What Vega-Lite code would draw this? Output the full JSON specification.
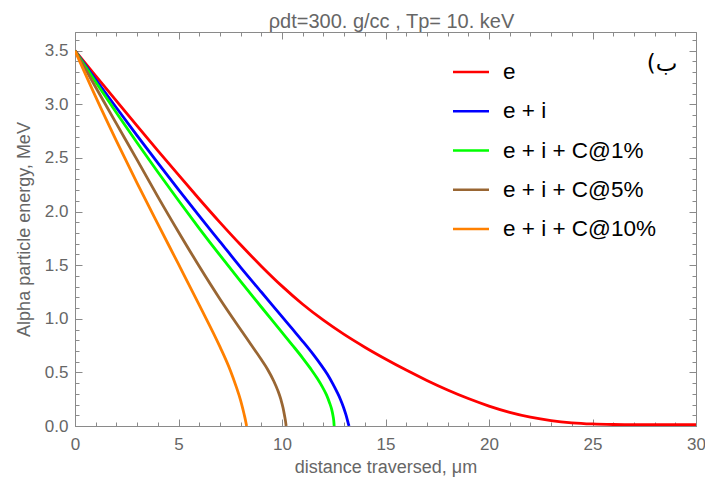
{
  "$schema": "https://vega.github.io/schema/vega-lite/v6.json",
  "width": 621,
  "height": 394,
  "autosize": {"type": "none"},
  "padding": {"left": 75, "top": 32, "right": 9, "bottom": 59},
  "background": "white",
  "title": {"text": "ρdt=300. g/cc , Tp= 10. keV", "fontSize": 20, "font": "Liberation Sans", "fontWeight": "normal", "color": "#666666", "anchor": "middle", "baseline": "alphabetic", "offset": -16, "dx": 6},
  "config": {
    "view": {"stroke": "#8a8a8a", "strokeWidth": 1},
    "axis": {"grid": false, "domain": false, "tickColor": "#8a8a8a", "tickWidth": 1, "labelFont": "Liberation Sans", "titleFont": "Liberation Sans", "labelColor": "#666666", "titleColor": "#666666", "titleFontWeight": "normal", "labelFlush": false, "labelOverlap": false}
  },
  "data": {"values": [
    {"s": "e", "d": 0, "E": 3.5}, {"s": "e", "d": 1, "E": 3.2655}, {"s": "e", "d": 2, "E": 3.032}, {"s": "e", "d": 3, "E": 2.7995}, {"s": "e", "d": 4, "E": 2.569}, {"s": "e", "d": 5, "E": 2.3415}, {"s": "e", "d": 6, "E": 2.1175}, {"s": "e", "d": 7, "E": 1.8995}, {"s": "e", "d": 8, "E": 1.69}, {"s": "e", "d": 9, "E": 1.491}, {"s": "e", "d": 10, "E": 1.3045}, {"s": "e", "d": 11, "E": 1.1355}, {"s": "e", "d": 12, "E": 0.9865}, {"s": "e", "d": 13, "E": 0.854}, {"s": "e", "d": 14, "E": 0.735}, {"s": "e", "d": 15, "E": 0.625}, {"s": "e", "d": 16, "E": 0.5215}, {"s": "e", "d": 17, "E": 0.425}, {"s": "e", "d": 18, "E": 0.336}, {"s": "e", "d": 19, "E": 0.256}, {"s": "e", "d": 20, "E": 0.186}, {"s": "e", "d": 21, "E": 0.1275}, {"s": "e", "d": 22, "E": 0.0825}, {"s": "e", "d": 23, "E": 0.0505}, {"s": "e", "d": 24, "E": 0.03}, {"s": "e", "d": 25, "E": 0.019}, {"s": "e", "d": 26, "E": 0.014}, {"s": "e", "d": 27, "E": 0.012}, {"s": "e", "d": 28, "E": 0.012}, {"s": "e", "d": 29, "E": 0.012}, {"s": "e", "d": 30, "E": 0.012},
    {"s": "e + i", "d": 0, "E": 3.5}, {"s": "e + i", "d": 1, "E": 3.232}, {"s": "e + i", "d": 2, "E": 2.968}, {"s": "e + i", "d": 3, "E": 2.7085}, {"s": "e + i", "d": 4, "E": 2.454}, {"s": "e + i", "d": 5, "E": 2.205}, {"s": "e + i", "d": 6, "E": 1.96}, {"s": "e + i", "d": 7, "E": 1.72}, {"s": "e + i", "d": 8, "E": 1.48}, {"s": "e + i", "d": 9, "E": 1.25}, {"s": "e + i", "d": 10, "E": 1.02}, {"s": "e + i", "d": 10.5, "E": 0.905}, {"s": "e + i", "d": 11, "E": 0.79}, {"s": "e + i", "d": 11.5, "E": 0.67}, {"s": "e + i", "d": 11.9, "E": 0.565}, {"s": "e + i", "d": 12.2, "E": 0.48}, {"s": "e + i", "d": 12.45, "E": 0.395}, {"s": "e + i", "d": 12.65, "E": 0.32}, {"s": "e + i", "d": 12.82, "E": 0.25}, {"s": "e + i", "d": 12.97, "E": 0.175}, {"s": "e + i", "d": 13.08, "E": 0.11}, {"s": "e + i", "d": 13.16, "E": 0.055}, {"s": "e + i", "d": 13.21, "E": 0.018}, {"s": "e + i", "d": 13.24, "E": 0},
    {"s": "e + i + C@1%", "d": 0, "E": 3.5}, {"s": "e + i + C@1%", "d": 1, "E": 3.208}, {"s": "e + i + C@1%", "d": 2, "E": 2.922}, {"s": "e + i + C@1%", "d": 3, "E": 2.642}, {"s": "e + i + C@1%", "d": 4, "E": 2.369}, {"s": "e + i + C@1%", "d": 5, "E": 2.103}, {"s": "e + i + C@1%", "d": 6, "E": 1.844}, {"s": "e + i + C@1%", "d": 7, "E": 1.593}, {"s": "e + i + C@1%", "d": 8, "E": 1.349}, {"s": "e + i + C@1%", "d": 9, "E": 1.11}, {"s": "e + i + C@1%", "d": 10, "E": 0.874}, {"s": "e + i + C@1%", "d": 10.5, "E": 0.755}, {"s": "e + i + C@1%", "d": 11, "E": 0.634}, {"s": "e + i + C@1%", "d": 11.4, "E": 0.53}, {"s": "e + i + C@1%", "d": 11.7, "E": 0.445}, {"s": "e + i + C@1%", "d": 11.95, "E": 0.365}, {"s": "e + i + C@1%", "d": 12.15, "E": 0.29}, {"s": "e + i + C@1%", "d": 12.3, "E": 0.215}, {"s": "e + i + C@1%", "d": 12.4, "E": 0.155}, {"s": "e + i + C@1%", "d": 12.46, "E": 0.1}, {"s": "e + i + C@1%", "d": 12.5, "E": 0.05}, {"s": "e + i + C@1%", "d": 12.52, "E": 0},
    {"s": "e + i + C@5%", "d": 0, "E": 3.5}, {"s": "e + i + C@5%", "d": 1, "E": 3.16}, {"s": "e + i + C@5%", "d": 2, "E": 2.82}, {"s": "e + i + C@5%", "d": 3, "E": 2.4825}, {"s": "e + i + C@5%", "d": 4, "E": 2.14}, {"s": "e + i + C@5%", "d": 5, "E": 1.81}, {"s": "e + i + C@5%", "d": 6, "E": 1.49}, {"s": "e + i + C@5%", "d": 7, "E": 1.185}, {"s": "e + i + C@5%", "d": 8, "E": 0.9}, {"s": "e + i + C@5%", "d": 8.5, "E": 0.76}, {"s": "e + i + C@5%", "d": 9, "E": 0.62}, {"s": "e + i + C@5%", "d": 9.3, "E": 0.53}, {"s": "e + i + C@5%", "d": 9.6, "E": 0.42}, {"s": "e + i + C@5%", "d": 9.8, "E": 0.33}, {"s": "e + i + C@5%", "d": 9.95, "E": 0.245}, {"s": "e + i + C@5%", "d": 10.05, "E": 0.17}, {"s": "e + i + C@5%", "d": 10.12, "E": 0.1}, {"s": "e + i + C@5%", "d": 10.17, "E": 0.045}, {"s": "e + i + C@5%", "d": 10.2, "E": 0},
    {"s": "e + i + C@10%", "d": 0, "E": 3.5}, {"s": "e + i + C@10%", "d": 1, "E": 3.07}, {"s": "e + i + C@10%", "d": 2, "E": 2.66}, {"s": "e + i + C@10%", "d": 3, "E": 2.266}, {"s": "e + i + C@10%", "d": 4, "E": 1.885}, {"s": "e + i + C@10%", "d": 5, "E": 1.509}, {"s": "e + i + C@10%", "d": 6, "E": 1.13}, {"s": "e + i + C@10%", "d": 7, "E": 0.74}, {"s": "e + i + C@10%", "d": 7.5, "E": 0.52}, {"s": "e + i + C@10%", "d": 7.8, "E": 0.36}, {"s": "e + i + C@10%", "d": 8, "E": 0.24}, {"s": "e + i + C@10%", "d": 8.12, "E": 0.15}, {"s": "e + i + C@10%", "d": 8.2, "E": 0.085}, {"s": "e + i + C@10%", "d": 8.25, "E": 0.04}, {"s": "e + i + C@10%", "d": 8.29, "E": 0}
  ]},
  "layer": [
    {
      "mark": {"type": "line", "strokeWidth": 2.8, "interpolate": "monotone", "clip": true},
      "encoding": {
        "x": {"field": "d", "type": "quantitative", "scale": {"domain": [0, 30], "nice": false, "zero": false},
              "axis": {"orient": "bottom", "title": "distance traversed, μm", "values": [0, 5, 10, 15, 20, 25, 30], "format": "d", "ticks": false, "labelPadding": 10, "labelFontSize": 17, "titleFontSize": 18, "titleY": 46, "titleBaseline": "alphabetic"}},
        "y": {"field": "E", "type": "quantitative", "scale": {"domain": [0, 3.675], "nice": false, "zero": false},
              "axis": {"orient": "left", "title": "Alpha particle energy, MeV", "values": [0, 0.5, 1, 1.5, 2, 2.5, 3, 3.5], "format": ".1f", "ticks": false, "labelPadding": 7, "labelFontSize": 17, "titleFontSize": 18, "titleX": -46, "titleBaseline": "alphabetic"}},
        "color": {"field": "s", "type": "nominal",
                  "scale": {"domain": ["e", "e + i", "e + i + C@1%", "e + i + C@5%", "e + i + C@10%"], "range": ["#ff0000", "#0000ff", "#00ff00", "#996633", "#ff8000"]},
                  "legend": {"title": null, "orient": "none", "legendX": 376.5, "legendY": 20.5, "padding": 0, "symbolType": "stroke", "symbolSize": 1296, "symbolStrokeWidth": 2.5, "labelFontSize": 22.5, "labelFont": "Liberation Sans", "labelColor": "black", "labelOffset": 12.5, "rowPadding": 8.25, "labelLimit": 300}}
      }
    },
    {
      "mark": {"type": "point", "opacity": 0},
      "encoding": {
        "x": {"field": "d", "type": "quantitative", "scale": {"domain": [0, 30], "nice": false, "zero": false},
              "axis": {"orient": "bottom", "values": [0, 5, 10, 15, 20, 25, 30], "tickSize": -7, "labels": false, "title": null}},
        "y": {"field": "E", "type": "quantitative", "scale": {"domain": [0, 3.675], "nice": false, "zero": false},
              "axis": {"orient": "left", "values": [0, 0.5, 1, 1.5, 2, 2.5, 3, 3.5], "tickSize": -7, "labels": false, "title": null}}
      }
    },
    {
      "mark": {"type": "point", "opacity": 0},
      "encoding": {
        "x": {"field": "d", "type": "quantitative", "scale": {"domain": [0, 30], "nice": false, "zero": false},
              "axis": {"orient": "bottom", "values": [0, 1, 2, 3, 4, 5, 6, 7, 8, 9, 10, 11, 12, 13, 14, 15, 16, 17, 18, 19, 20, 21, 22, 23, 24, 25, 26, 27, 28, 29, 30], "tickSize": -4, "labels": false, "title": null}},
        "y": {"field": "E", "type": "quantitative", "scale": {"domain": [0, 3.675], "nice": false, "zero": false},
              "axis": {"orient": "left", "values": [0, 0.1, 0.2, 0.3, 0.4, 0.5, 0.6, 0.7, 0.8, 0.9, 1, 1.1, 1.2, 1.3, 1.4, 1.5, 1.6, 1.7, 1.8, 1.9, 2, 2.1, 2.2, 2.3, 2.4, 2.5, 2.6, 2.7, 2.8, 2.9, 3, 3.1, 3.2, 3.3, 3.4, 3.5, 3.6], "tickSize": -4, "labels": false, "title": null}}
      }
    },
    {
      "mark": {"type": "point", "opacity": 0},
      "encoding": {
        "x": {"field": "d", "type": "quantitative", "scale": {"domain": [0, 30], "nice": false, "zero": false},
              "axis": {"orient": "top", "values": [0, 5, 10, 15, 20, 25, 30], "tickSize": -7, "labels": false, "title": null}},
        "y": {"field": "E", "type": "quantitative", "scale": {"domain": [0, 3.675], "nice": false, "zero": false},
              "axis": {"orient": "right", "values": [0, 0.5, 1, 1.5, 2, 2.5, 3, 3.5], "tickSize": -7, "labels": false, "title": null}}
      }
    },
    {
      "mark": {"type": "point", "opacity": 0},
      "encoding": {
        "x": {"field": "d", "type": "quantitative", "scale": {"domain": [0, 30], "nice": false, "zero": false},
              "axis": {"orient": "top", "values": [0, 1, 2, 3, 4, 5, 6, 7, 8, 9, 10, 11, 12, 13, 14, 15, 16, 17, 18, 19, 20, 21, 22, 23, 24, 25, 26, 27, 28, 29, 30], "tickSize": -4, "labels": false, "title": null}},
        "y": {"field": "E", "type": "quantitative", "scale": {"domain": [0, 3.675], "nice": false, "zero": false},
              "axis": {"orient": "right", "values": [0, 0.1, 0.2, 0.3, 0.4, 0.5, 0.6, 0.7, 0.8, 0.9, 1, 1.1, 1.2, 1.3, 1.4, 1.5, 1.6, 1.7, 1.8, 1.9, 2, 2.1, 2.2, 2.3, 2.4, 2.5, 2.6, 2.7, 2.8, 2.9, 3, 3.1, 3.2, 3.3, 3.4, 3.5, 3.6], "tickSize": -4, "labels": false, "title": null}}
      }
    },
    {
      "data": {"values": [{"x": 28.36, "y": 3.38, "t": "(ب"}]},
      "mark": {"type": "text", "font": "DejaVu Sans", "fontSize": 23, "color": "black", "align": "center", "baseline": "middle"},
      "encoding": {
        "x": {"field": "x", "type": "quantitative", "scale": {"domain": [0, 30], "nice": false, "zero": false}, "axis": null},
        "y": {"field": "y", "type": "quantitative", "scale": {"domain": [0, 3.675], "nice": false, "zero": false}, "axis": null},
        "text": {"field": "t"}
      }
    }
  ],
  "resolve": {"axis": {"x": "independent", "y": "independent"}}
}
